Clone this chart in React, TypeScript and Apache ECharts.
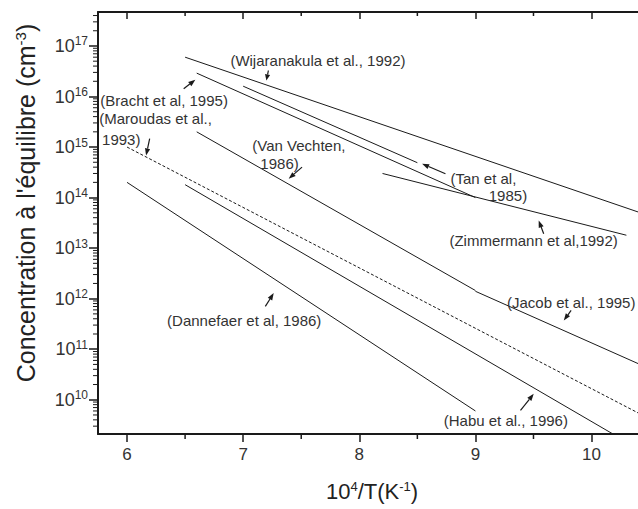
import React, { useEffect, useRef } from 'react';
import * as echarts from 'echarts';

// ---- axis ranges / ticks ----
const X_MIN = 5.75;
const X_MAX = 10.4;
const X_TICK_LABELS = [6, 7, 8, 9, 10];
const X_MINOR_TICKS = [6.5, 7.5, 8.5, 9.5];
const Y_MIN = 2.1e9;
const Y_MAX = 4.7e17;
const Y_DECADES = [9, 10, 11, 12, 13, 14, 15, 16, 17];
const Y_MINOR_FACTORS = [2, 3, 4, 5, 6, 7, 8, 9];

// ---- series: [10^4/T, concentration (cm^-3)] ----
const WIJARANAKULA_1992 = [[6.5, 6.0e16], [10.4, 5.2e13]];
const BRACHT_1995 = [[6.6, 2.9e16], [9.0, 1.0e14]];
const TAN_1985 = [[7.0, 1.6e16], [8.5, 4.9e14]];
const ZIMMERMANN_1992 = [[8.2, 3.0e14], [10.3, 1.8e13]];
const VAN_VECHTEN_1986 = [[6.6, 2.0e15], [9.0, 1.45e12]];
const JACOB_1995 = [[9.0, 1.4e12], [10.4, 5.2e10]];
const MAROUDAS_1993 = [[6.0, 1.0e15], [10.4, 5.5e9]];
const HABU_1996 = [[6.5, 1.8e14], [10.2, 2.0e9]];
const DANNEFAER_1986 = [[6.0, 2.0e14], [9.0, 6.0e9]];

// ---- annotations (anchored in data space) ----
const NOTE_TEXTS = [
  '(Wijaranakula et al., 1992)',
  '(Bracht et al, 1995)',
  '(Maroudas et al.,',
  '1993)',
  '(Van Vechten,',
  '1986)',
  '(Tan et al,',
  '1985)',
  '(Zimmermann et al,1992)',
  '(Jacob et al., 1995)',
  '(Habu et al., 1996)',
  '(Dannefaer et al, 1986)',
];
const NOTE_X = [6.89, 5.77, 5.761, 5.785, 7.079, 7.148, 8.785, 9.115, 8.776, 9.272, 8.727, 6.345];
const NOTE_Y = [5.16e16, 8.36e15, 3.63e15, 1.39e15, 1.07e15, 4.73e14, 2.36e14, 1.1e14, 1.42e13, 8.53e11, 3.89e9, 3.71e11];

// arrows: [tailX, tailY, headX, headY]
const ARROWS = [
  [7.217, 3.27e16, 7.2, 2.07e16],
  [6.488, 1.42e16, 6.588, 2.14e16],
  [6.195, 1.46e15, 6.164, 6.81e14],
  [7.507, 4.0e14, 7.392, 2.36e14],
  [8.742, 2.96e14, 8.541, 4.67e14],
  [9.588, 1.92e13, 9.545, 3.52e13],
  [9.824, 5.85e11, 9.761, 3.71e11],
  [9.388, 6.14e9, 9.502, 1.31e10],
  [7.191, 7.02e11, 7.263, 1.29e12],
];

const FONT = '"Liberation Sans", Arial, Helvetica, sans-serif';
const INK = '#1a1a1a';
const TXT = '#333333';

function lineSeries(name: string, data: number[][], dashed = false) {
  return {
    type: 'line',
    name,
    data,
    showSymbol: false,
    symbol: 'none',
    silent: true,
    z: 2,
    lineStyle: { color: INK, width: 1, type: dashed ? [3, 2] : 'solid' },
  };
}

export default function App() {
  const ref = useRef<HTMLDivElement>(null);

  useEffect(() => {
    if (!ref.current) return;
    const chart = echarts.init(ref.current, undefined, { renderer: 'svg' });

    const axisLineStyle = { color: INK, width: 2 };

    // minor tick values (axis decoration)
    const yMinor: number[][] = [];
    Y_DECADES.forEach((d) =>
      Y_MINOR_FACTORS.forEach((f) => {
        const v = f * Math.pow(10, d);
        if (v > Y_MIN && v < Y_MAX) yMinor.push([X_MIN, v]);
      })
    );
    const xMinor: number[][] = [];
    X_MINOR_TICKS.forEach((x) => {
      xMinor.push([x, Y_MIN, 0]);
      xMinor.push([x, Y_MAX, 1]);
    });

    const option: any = {
      animation: false,
      backgroundColor: '#ffffff',
      grid: { left: 98, right: 0, top: 12, bottom: 75, containLabel: false },
      xAxis: [
        {
          type: 'value',
          position: 'bottom',
          min: X_MIN,
          max: X_MAX,
          splitNumber: 5,
          axisLine: { show: true, onZero: false, lineStyle: axisLineStyle },
          axisTick: { show: true, inside: false, length: 8, customValues: X_TICK_LABELS, lineStyle: { color: INK, width: 1.5 } },
          minorTick: { show: false },
          axisLabel: {
            customValues: X_TICK_LABELS,
            margin: 12,
            fontSize: 17,
            fontFamily: FONT,
            color: TXT,
            formatter: (v: number) => String(v),
          },
          splitLine: { show: false },
        },
        {
          type: 'value',
          position: 'top',
          min: X_MIN,
          max: X_MAX,
          splitNumber: 5,
          axisLine: { show: true, onZero: false, lineStyle: axisLineStyle },
          axisTick: { show: true, inside: true, length: 7, customValues: X_TICK_LABELS, lineStyle: { color: INK, width: 1.5 } },
          minorTick: { show: false },
          axisLabel: { show: false },
          splitLine: { show: false },
        },
      ],
      yAxis: {
        type: 'log',
        logBase: 10,
        position: 'left',
        min: Y_MIN,
        max: Y_MAX,
        splitNumber: 8,
        axisLine: { show: true, onZero: false, lineStyle: axisLineStyle },
        axisTick: { show: true, inside: false, length: 9, lineStyle: { color: INK, width: 1.5 } },
        minorTick: { show: false },
        axisLabel: {
          showMinLabel: false,
          showMaxLabel: false,
          margin: 10,
          fontFamily: FONT,
          color: TXT,
          formatter: (v: number) => `{b|10}{s|${Math.round(Math.log10(v))}}`,
          rich: {
            b: { fontSize: 18, fontFamily: FONT, color: TXT },
            s: { fontSize: 12, fontFamily: FONT, color: TXT, padding: [0, 0, 9, 0] },
          },
        },
        splitLine: { show: false },
      },
      series: [
        lineSeries('Wijaranakula et al., 1992', WIJARANAKULA_1992),
        lineSeries('Bracht et al, 1995', BRACHT_1995),
        lineSeries('Tan et al, 1985', TAN_1985),
        lineSeries('Zimmermann et al, 1992', ZIMMERMANN_1992),
        lineSeries('Van Vechten, 1986', VAN_VECHTEN_1986),
        lineSeries('Jacob et al., 1995', JACOB_1995),
        lineSeries('Maroudas et al., 1993', MAROUDAS_1993, true),
        lineSeries('Habu et al., 1996', HABU_1996),
        lineSeries('Dannefaer et al, 1986', DANNEFAER_1986),
        {
          type: 'custom',
          name: 'y minor ticks',
          silent: true,
          clip: false,
          z: 6,
          encode: { x: 0, y: 1 },
          data: yMinor,
          renderItem: (params: any, api: any) => {
            const p = api.coord([api.value(0), api.value(1)]);
            return {
              type: 'line',
              shape: { x1: p[0] - 5, y1: p[1], x2: p[0], y2: p[1] },
              style: { stroke: INK, lineWidth: 1 },
            };
          },
        },
        {
          type: 'custom',
          name: 'x minor ticks',
          silent: true,
          clip: false,
          z: 6,
          encode: { x: 0, y: 1 },
          data: xMinor,
          renderItem: (params: any, api: any) => {
            const p = api.coord([api.value(0), api.value(1)]);
            const top = api.value(2) === 1;
            return {
              type: 'line',
              shape: top
                ? { x1: p[0], y1: p[1], x2: p[0], y2: p[1] + 4 }
                : { x1: p[0], y1: p[1], x2: p[0], y2: p[1] + 5 },
              style: { stroke: INK, lineWidth: 1.5 },
            };
          },
        },
        {
          type: 'custom',
          name: 'notes',
          silent: true,
          clip: false,
          z: 5,
          encode: { x: 0, y: 1 },
          data: NOTE_X.map((x, i) => [x, NOTE_Y[i]]),
          renderItem: (params: any, api: any) => {
            const p = api.coord([api.value(0), api.value(1)]);
            return {
              type: 'text',
              x: p[0],
              y: p[1],
              style: {
                text: NOTE_TEXTS[params.dataIndex],
                fill: TXT,
                fontSize: 15,
                fontFamily: FONT,
                align: 'left',
                verticalAlign: 'middle',
              },
            };
          },
        },
        {
          type: 'custom',
          name: 'arrows',
          silent: true,
          clip: false,
          z: 5,
          encode: { x: [0, 2], y: [1, 3] },
          data: ARROWS,
          renderItem: (params: any, api: any) => {
            const t = api.coord([api.value(0), api.value(1)]);
            const h = api.coord([api.value(2), api.value(3)]);
            const dx = h[0] - t[0];
            const dy = h[1] - t[1];
            const L = Math.hypot(dx, dy) || 1;
            const ux = dx / L;
            const uy = dy / L;
            const hl = Math.min(7, L * 0.6);
            const hw = 2.6;
            const bx = h[0] - ux * hl;
            const by = h[1] - uy * hl;
            return {
              type: 'group',
              children: [
                {
                  type: 'line',
                  shape: { x1: t[0], y1: t[1], x2: bx, y2: by },
                  style: { stroke: INK, lineWidth: 1.2 },
                },
                {
                  type: 'polygon',
                  shape: {
                    points: [
                      [h[0], h[1]],
                      [bx - uy * hw, by + ux * hw],
                      [bx + uy * hw, by - ux * hw],
                    ],
                  },
                  style: { fill: INK },
                },
              ],
            };
          },
        },
      ],
      graphic: [
        {
          type: 'text',
          x: 26,
          y: 203,
          rotation: Math.PI / 2,
          silent: true,
          style: {
            text: "{t|Concentration à l'équilibre (cm}{s|-3}{t|)}",
            align: 'center',
            verticalAlign: 'middle',
            rich: {
              t: { fontSize: 25, fontFamily: FONT, fill: '#222' },
              s: { fontSize: 15, fontFamily: FONT, fill: '#222', padding: [0, 0, 12, 0] },
            },
          },
        },
        {
          type: 'text',
          x: 372,
          y: 491,
          silent: true,
          style: {
            text: '{t|10}{s|4}{t|/T(K}{s|-1}{t|)}',
            align: 'center',
            verticalAlign: 'middle',
            rich: {
              t: { fontSize: 22, fontFamily: FONT, fill: '#222' },
              s: { fontSize: 13, fontFamily: FONT, fill: '#222', padding: [0, 0, 10, 0] },
            },
          },
        },
      ],
    };

    chart.setOption(option);
    return () => chart.dispose();
  }, []);

  return (
    <div
      ref={ref}
      style={{ position: 'absolute', left: 0, top: 0, width: 638, height: 509, background: '#fff' }}
    />
  );
}
